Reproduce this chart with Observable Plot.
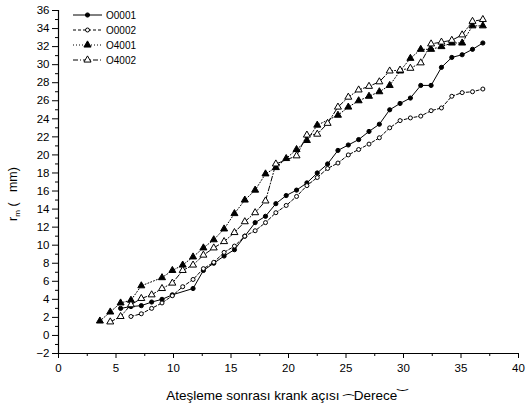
<!DOCTYPE html>
<html><head><meta charset="utf-8">
<script src="https://cdn.jsdelivr.net/npm/d3@7"></script>
<script src="https://cdn.jsdelivr.net/npm/@observablehq/plot@0.6"></script>
<style>
body{margin:0;background:#fff;font-family:"Liberation Sans",Arial,sans-serif}
#chart{position:relative;width:526px;height:410px}
</style>
</head><body><div id="chart"></div>
<script>
const seriesNames = ["O0001", "O0002", "O4001", "O4002"];

const o0001X = [5.4,6.3,7.2,8.1,9.0,9.9,11.7,12.6,13.5,14.4,15.3,16.2,17.1,18.0,18.9,19.8,20.7,21.6,22.5,23.4,24.3,25.2,26.1,27.0,27.9,28.8,29.7,30.6,31.5,32.4,33.3,34.2,35.1,36.0,36.9];
const o0001Y = [3.0,3.2,3.3,3.7,4.0,4.5,5.2,7.2,8.0,8.8,9.5,11.0,12.5,13.2,14.6,15.5,16.1,16.9,18.0,19.0,20.5,21.1,21.7,22.6,23.4,25.0,25.7,26.3,27.7,27.7,29.7,30.8,31.1,31.7,32.4];

const o0002X = [6.3,7.2,8.1,9.0,9.9,10.8,11.7,12.6,13.5,14.4,15.3,16.2,17.1,18.0,18.9,19.8,20.7,21.6,22.5,23.4,24.3,25.2,26.1,27.0,27.9,28.8,29.7,30.6,31.5,32.4,33.3,34.2,35.1,36.0,36.9];
const o0002Y = [2.1,2.4,3.0,3.6,4.4,5.4,6.2,7.4,8.1,9.2,9.9,11.0,11.6,12.5,13.6,14.4,15.4,16.6,17.5,18.5,19.1,20.0,20.6,21.2,21.9,23.0,23.8,24.1,24.3,24.9,25.2,26.5,26.9,27.0,27.3];

const o4001X = [3.6,4.5,5.4,6.3,7.2,9.0,9.9,10.8,11.7,12.6,13.5,14.4,15.3,16.2,17.1,18.0,18.9,19.8,20.7,21.6,22.5,24.3,25.2,26.1,27.0,27.9,28.8,29.7,30.6,31.5,32.4,33.3,34.2,35.1,36.0,36.9];
const o4001Y = [1.6,2.6,3.6,3.9,5.5,6.4,7.2,7.8,8.7,9.7,10.6,11.8,13.5,15.0,16.1,17.9,18.6,19.6,20.6,21.6,23.3,24.4,25.3,26.0,26.5,27.0,27.7,29.3,30.7,31.7,31.7,32.0,32.4,32.4,34.3,34.3];

const o4002X = [4.5,5.4,6.3,7.2,8.1,9.0,9.9,10.8,11.7,12.6,13.5,14.4,15.3,16.2,17.1,18.0,18.9,20.7,21.6,22.5,23.4,24.3,25.2,26.1,27.0,27.9,28.8,29.7,30.6,31.5,32.4,33.3,34.2,35.1,36.0,36.9];
const o4002Y = [1.5,2.1,3.4,4.1,4.5,5.2,5.8,7.2,7.8,8.9,9.7,10.4,11.4,12.6,13.6,14.9,19.0,19.9,22.2,22.3,23.5,25.3,26.4,27.2,27.6,28.1,29.3,29.4,29.6,30.2,32.3,32.5,32.7,33.3,34.8,35.0];

const xTicks = [0,5,10,15,20,25,30,35,40];
const xMinorTicks = [2.5,7.5,12.5,17.5,22.5,27.5,32.5,37.5];
const yTicks = [-2,0,2,4,6,8,10,12,14,16,18,20,22,24,26,28,30,32,34,36];
const yMinorTicks = [-1,1,3,5,7,9,11,13,15,17,19,21,23,25,27,29,31,33,35];

const xLabelMain = "Ateşleme sonrası krank açısı ";
const xLabelUnit = "Derece";

const styles = [
  {symbol: "circle", fill: "black", r: 2.1, dash: null},
  {symbol: "circle", fill: "white", r: 2.0, dash: "3,2"},
  {symbol: "triangle", fill: "black", r: 2.6, dash: "1,2"},
  {symbol: "triangle", fill: "white", r: 2.6, dash: "5,2,1,2"}
];
const xsAll = [o0001X, o0002X, o4001X, o4002X];
const ysAll = [o0001Y, o0002Y, o4001Y, o4002Y];
const series = seriesNames.map((name, i) => xsAll[i].map((x, j) => ({series: name, x, y: ysAll[i][j]})));

const marks = [];
series.forEach((data, i) => {
  const s = styles[i];
  marks.push(Plot.line(data, {x: "x", y: "y", stroke: "black", strokeWidth: 1, strokeDasharray: s.dash}));
});
series.forEach((data, i) => {
  const s = styles[i];
  marks.push(Plot.dot(data, {x: "x", y: "y", symbol: s.symbol, r: s.r, fill: s.fill, stroke: "black", strokeWidth: 1}));
});

const chart = Plot.plot({
  width: 526,
  height: 410,
  marginLeft: 58,
  marginRight: 8,
  marginTop: 10,
  marginBottom: 57,
  style: {fontFamily: "'Liberation Sans', Arial, sans-serif", fontSize: "11.5px", color: "black", background: "white"},
  x: {domain: [0, 40]},
  y: {domain: [-2, 36]},
  marks: [
    Plot.axisX(xTicks, {tickSize: 5, tickPadding: 5, fontSize: 11.5, label: null}),
    Plot.axisX(xMinorTicks, {tickSize: 3, tickFormat: () => "", label: null}),
    Plot.axisY(yTicks, {tickSize: 6, tickPadding: 3, fontSize: 11.5, label: null}),
    Plot.axisY(yMinorTicks, {tickSize: 3, tickFormat: () => "", label: null}),
    Plot.ruleX([0], {stroke: "black", strokeWidth: 1.2}),
    Plot.ruleY([-2], {stroke: "black", strokeWidth: 1.2}),
    ...marks
  ]
});
document.getElementById("chart").appendChild(chart);

// Axis titles and legend
const svg = d3.select(chart);
const xl = svg.append("text")
  .attr("x", 287).attr("y", 400)
  .attr("text-anchor", "middle")
  .attr("font-size", 13.5)
  .attr("fill", "black");
xl.append("tspan").text(xLabelMain);
xl.append("tspan").attr("font-family", "'DejaVu Sans'").attr("font-size", 13).attr("dy", 6).text("⁀");
xl.append("tspan").attr("dy", -6).text(xLabelUnit);
xl.append("tspan").attr("font-family", "'DejaVu Sans'").attr("font-size", 13).attr("dy", -12).text("‿");

const yl = svg.append("text")
  .attr("transform", "translate(17,194) rotate(-90)")
  .attr("text-anchor", "middle")
  .attr("font-size", 12.5)
  .attr("fill", "black");
yl.append("tspan").text("r");
yl.append("tspan").attr("font-size", 8).attr("dy", 3).text("m");
yl.append("tspan").attr("dy", -3).text(" (   mm)");

const leg = svg.append("g").attr("transform", "translate(73,15)");
seriesNames.forEach((name, i) => {
  const s = styles[i];
  const g = leg.append("g").attr("transform", `translate(0,${i * 15})`);
  g.append("line").attr("x1", 0).attr("x2", 29).attr("y1", 0).attr("y2", 0)
    .attr("stroke", "black").attr("stroke-width", 1)
    .attr("stroke-dasharray", s.dash);
  if (s.symbol === "circle") {
    g.append("circle").attr("cx", 14.5).attr("cy", 0).attr("r", s.r)
      .attr("fill", s.fill).attr("stroke", "black");
  } else {
    g.append("path").attr("d", d3.symbol(d3.symbolTriangle, 22)()).attr("transform", "translate(14.5,0)")
      .attr("fill", s.fill).attr("stroke", "black");
  }
  g.append("text").attr("x", 33).attr("y", 3.5).attr("text-anchor", "start")
    .attr("font-size", 10).attr("fill", "black").text(name);
});
</script>
</body></html>
